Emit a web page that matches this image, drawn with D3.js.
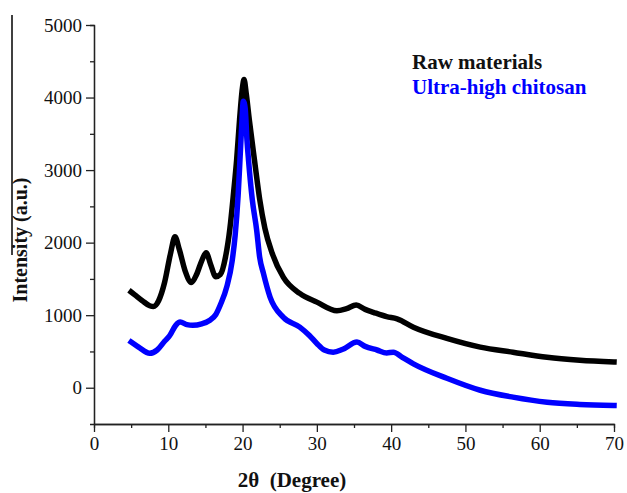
<!DOCTYPE html>
<html>
<head>
<meta charset="utf-8">
<script src="https://cdn.jsdelivr.net/npm/d3@7"></script>
<style>
  html, body { margin: 0; padding: 0; background: #fff; }
  svg { display: block; }
  text { font-family: "Liberation Serif", "Times New Roman", serif; }
</style>
</head>
<body>
<svg id="chart" width="627" height="493"></svg>
<script>
// ---- data ----
const seriesNames = ["Raw materials", "Ultra-high chitosan"];
const seriesColors = ["#000000", "#0000ff"];

const rawAngle = [5.0, 5.5, 6.5, 7.5, 8.0, 8.7, 9.5, 10.3, 10.9, 11.5, 12.3, 13.1, 13.8, 14.5, 15.1, 15.7, 16.4, 17.0, 17.7, 18.3, 18.8, 19.2, 19.6, 20.0, 20.2, 20.5, 20.9, 21.6, 22.3, 23.0, 24.0, 25.5, 27.7, 30.0, 32.7, 34.0, 35.3, 36.5, 37.6, 39.4, 40.8, 43.0, 47.5, 52.0, 56.4, 61.0, 65.4, 70.0];
const rawIntensity = [1320, 1280, 1200, 1130, 1120, 1200, 1450, 1850, 2080, 1900, 1600, 1450, 1560, 1750, 1860, 1700, 1530, 1560, 1800, 2200, 2700, 3140, 3700, 4150, 4250, 4050, 3700, 3140, 2600, 2200, 1850, 1520, 1300, 1180, 1060, 1090, 1140, 1080, 1040, 980, 950, 835, 680, 560, 490, 420, 380, 355];

const uhcAngle = [5.0, 6.0, 7.5, 8.5, 9.5, 10.2, 11.0, 11.6, 12.5, 13.3, 14.5, 15.6, 16.4, 17.0, 17.9, 18.6, 19.0, 19.4, 19.65, 19.9, 20.1, 20.35, 20.6, 20.8, 21.3, 21.9, 22.3, 22.8, 23.7, 25.5, 27.7, 29.0, 30.0, 31.0, 32.2, 33.5, 35.4, 36.5, 38.1, 39.4, 40.3, 41.5, 43.0, 47.5, 52.0, 56.4, 61.0, 65.4, 70.0];
const uhcIntensity = [630, 560, 475, 520, 640, 720, 860, 905, 870, 860, 880, 930, 1010, 1140, 1400, 1750, 2100, 2650, 3140, 3650, 3950, 3850, 3400, 3140, 2600, 2170, 1800, 1580, 1250, 970, 835, 720, 610, 520, 490, 530, 630, 570, 520, 480, 490, 420, 330, 130, -35, -130, -200, -230, -245];

const xMajorTicks = [0, 10, 20, 30, 40, 50, 60, 70];
const xMinorTicks = [5, 15, 25, 35, 45, 55, 65];
const yMajorTicks = [0, 1000, 2000, 3000, 4000, 5000];
const yMinorTicks = [500, 1500, 2500, 3500, 4500];

const xTitle = "2\u03b8  (Degree)";
const yTitle = "Intensity (a.u.)";

// ---- drawing ----
const svg = d3.select("#chart");
const x = d3.scaleLinear().domain([0, 70]).range([94, 614]);
const y = d3.scaleLinear().domain([-500, 5000]).range([424, 25]);

const axisColor = "#222";

// stray border line on the left of the original image
svg.append("line").attr("x1", 12).attr("x2", 12).attr("y1", 15).attr("y2", 255)
  .attr("stroke", "#000").attr("stroke-width", 1.5);

// series
const seriesData = [
  rawAngle.map((a, i) => [a, rawIntensity[i]]),
  uhcAngle.map((a, i) => [a, uhcIntensity[i]])
];
const line = d3.line().x(d => x(d[0])).y(d => y(d[1])).curve(d3.curveMonotoneX);
seriesData.forEach((s, i) => {
  svg.append("path").datum(s)
    .attr("d", line)
    .attr("fill", "none")
    .attr("stroke", seriesColors[i])
    .attr("stroke-width", 5.5)
    .attr("stroke-linejoin", "round")
    .attr("stroke-linecap", "square");
});

function styleAxis(g) {
  g.select(".domain").attr("stroke", axisColor).attr("stroke-width", 1.3);
  g.selectAll(".tick line").attr("stroke", axisColor).attr("stroke-width", 1.3);
  g.selectAll(".tick text").attr("fill", "#111").style("font-size", "19px")
    .style("font-family", "'Liberation Serif', 'Times New Roman', serif");
}

// y axis
const yMinor = svg.append("g").attr("transform", `translate(${x(0)},0)`)
  .call(d3.axisLeft(y).tickValues(yMinorTicks).tickSize(4).tickFormat(""));
styleAxis(yMinor);
const yMajor = svg.append("g").attr("transform", `translate(${x(0)},0)`)
  .call(d3.axisLeft(y).tickValues(yMajorTicks).tickSize(8).tickPadding(4).tickSizeOuter(0).tickFormat(d3.format("d")));
styleAxis(yMajor);

// x axis
const xMinor = svg.append("g").attr("transform", `translate(0,${y(-500)})`)
  .call(d3.axisBottom(x).tickValues(xMinorTicks).tickSize(4).tickFormat(""));
styleAxis(xMinor);
const xMajor = svg.append("g").attr("transform", `translate(0,${y(-500)})`)
  .call(d3.axisBottom(x).tickValues(xMajorTicks).tickSize(8).tickPadding(5).tickSizeOuter(0).tickFormat(d3.format("d")));
styleAxis(xMajor);

// axis titles
svg.append("text").text(xTitle)
  .attr("x", 292).attr("y", 487).attr("text-anchor", "middle")
  .style("white-space", "pre")
  .style("font-size", "21px").style("font-weight", "bold").attr("fill", "#111");
svg.append("text").text(yTitle)
  .attr("transform", "translate(27,240) rotate(-90)").attr("text-anchor", "middle")
  .style("font-size", "20px").style("font-weight", "bold").attr("fill", "#111");

// legend
seriesNames.forEach((n, i) => {
  svg.append("text").text(n)
    .attr("x", 412).attr("y", 69 + i * 25)
    .style("font-size", "21px").style("font-weight", "bold")
    .attr("fill", i === 0 ? "#111" : seriesColors[i]);
});
</script>
</body>
</html>
